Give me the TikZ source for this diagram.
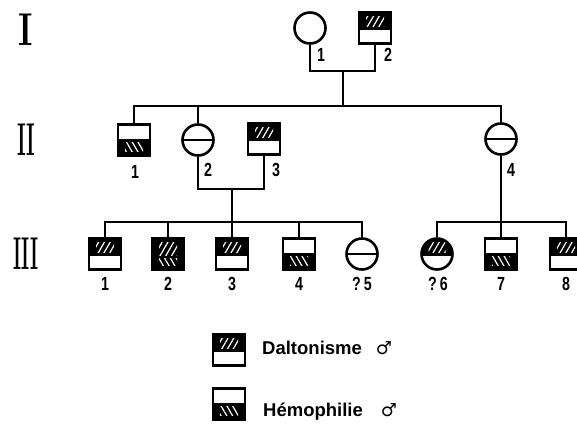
\documentclass[tikz,border=0pt]{standalone}
\usepackage{fontspec}
\usepackage{tikz}
\usetikzlibrary{patterns.meta}
\newfontfamily\numfont[FakeStretch=0.75]{Liberation Sans}
\newfontfamily\legfont{Liberation Sans}
\newfontfamily\symfont{DejaVu Sans}

\tikzset{
  person/.style={draw, line width=2.6pt, inner sep=0pt},
  male/.style={person, rectangle, minimum width=32pt, minimum height=31pt},
  female/.style={person, circle, minimum size=31pt},
  link/.style={line width=2.6pt},
  num/.style={font=\numfont\bfseries\fontsize{19}{19}\selectfont, inner sep=0pt},
  gen/.style={font=\rmfamily\bfseries\fontsize{46}{46}\selectfont, inner sep=0pt},
  legtext/.style={font=\legfont\bfseries\fontsize{18.5}{18.5}\selectfont, inner sep=0pt, anchor=west},
  % dark half with white hatching
  dalton/.style={path picture={
      \fill[black] (path picture bounding box.north west) rectangle ([yshift=-2pt]path picture bounding box.east);
      \fill[pattern={Lines[angle=60,distance=5pt,line width=1.2pt]}, pattern color=white]
        ([xshift=7pt,yshift=-4pt]path picture bounding box.north west) rectangle ([xshift=-7pt,yshift=2pt]path picture bounding box.east);}},
  hemo/.style={path picture={
      \fill[black] (path picture bounding box.south west) rectangle ([yshift=1pt]path picture bounding box.east);
      \fill[pattern={Lines[angle=120,distance=5pt,line width=1.2pt]}, pattern color=white]
        ([xshift=7pt,yshift=4pt]path picture bounding box.south west) rectangle ([xshift=-7pt,yshift=-2pt]path picture bounding box.east);}},
  both/.style={path picture={
      \fill[black] (path picture bounding box.south west) rectangle (path picture bounding box.north east);
      \fill[pattern={Lines[angle=60,distance=5pt,line width=1.2pt]}, pattern color=white]
        ([xshift=7pt,yshift=-4pt]path picture bounding box.north west) rectangle ([xshift=-7pt,yshift=-1pt]path picture bounding box.east);
      \fill[pattern={Lines[angle=120,distance=5pt,line width=1.2pt]}, pattern color=white]
        ([xshift=7pt,yshift=4pt]path picture bounding box.south west) rectangle ([xshift=-7pt,yshift=-4pt]path picture bounding box.east);}},
  carrier/.style={path picture={
      \draw[line width=2.6pt] (path picture bounding box.west) -- (path picture bounding box.east);}},
}

\begin{document}
\begin{tikzpicture}[x=1pt,y=-1pt]
  \clip (0,0) rectangle (577,423);
  \fill[white] (0,0) rectangle (577,423);

  % generations
  \node[gen] (gI)   at (26,30)  {\scalebox{0.75}[1]{I}};
  \node[gen] (gII)  at (26,140) {\scalebox{0.45}[1]{II}};
  \node[gen] (gIII) at (26,254) {\scalebox{0.42}[1]{III}};

  % generation I
  \node[female]       (I1) at (310,28) {};
  \node[male,dalton]  (I2) at (375,28) {};

  % generation II
  \node[male,hemo]      (II1) at (134,140) {};
  \node[female,carrier] (II2) at (198,140) {};
  \node[male,dalton]    (II3) at (264,139) {};
  \node[female,carrier] (II4) at (501,139) {};

  % generation III
  \node[male,dalton]    (III1) at (105,254) {};
  \node[male,both]      (III2) at (168,254) {};
  \node[male,dalton]    (III3) at (232,254) {};
  \node[male,hemo]      (III4) at (299,254) {};
  \node[female,carrier] (III5) at (362,254) {};
  \node[female,dalton]  (III6) at (437,254) {};
  \node[male,hemo]      (III7) at (501,254) {};
  \node[male,dalton]    (III8) at (566,254) {};

  % lines
  \coordinate (mI) at (343,71);
  \coordinate (sII) at (343,106);
  \draw[link] (I1) |- (mI) -| (I2);
  \draw[link] (mI) -- (sII);
  \draw[link] (II1) |- (sII) -| (II4);
  \draw[link] (II2) -- (II2 |- sII);

  \coordinate (mII) at (232,189);
  \coordinate (sIIIa) at (232,222);
  \draw[link] (II2) |- (mII) -| (II3);
  \draw[link] (mII) -- (sIIIa);
  \draw[link] (III1) |- (sIIIa) -| (III5);
  \foreach \k in {III2,III3,III4}
    \draw[link] (\k) -- (\k |- sIIIa);

  \coordinate (sIIIb) at (501,222);
  \draw[link] (II4) -- (sIIIb);
  \draw[link] (III6) |- (sIIIb) -| (III8);
  \draw[link] (III7) -- (sIIIb);

  % numbers
  \node[num] (nI1) at (321,55) {1};
  \node[num] (nI2) at (388,55) {2};
  \node[num] (nII1) at (135,172) {1};
  \node[num] (nII2) at (208,170) {2};
  \node[num] (nII3) at (276,170) {3};
  \node[num] (nII4) at (511,170) {4};
  \node[num] (nIII1) at (105,284) {1};
  \node[num] (nIII2) at (168,284) {2};
  \node[num] (nIII3) at (232,284) {3};
  \node[num] (nIII4) at (299,284) {4};
  \node[num] (nIII5) at (362,284) {?\,5};
  \node[num] (nIII6) at (438,284) {?\,6};
  \node[num] (nIII7) at (501,284) {7};
  \node[num] (nIII8) at (566,284) {8};

  % legend
  \node[male,dalton] (keyD) at (229,350) {};
  \node[male,hemo]   (keyH) at (229,404) {};
  \node[legtext] (txtD) at (262,348) {Daltonisme\hspace{14pt}{\symfont\bfseries\fontsize{18}{18}\selectfont ♂}};
  \node[legtext] (txtH) at (263,412) {Hémophilie\hspace{18pt}{\symfont\bfseries\fontsize{18}{18}\selectfont ♂}};
\end{tikzpicture}
\end{document}
